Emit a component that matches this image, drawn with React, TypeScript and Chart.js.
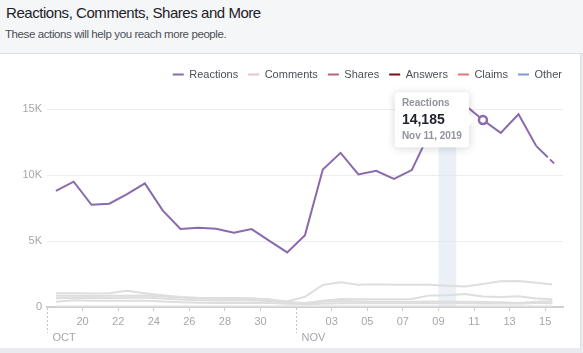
import React, { useEffect, useRef } from 'react';
import { Chart, registerables, Tooltip } from 'chart.js';

Chart.register(...registerables);

// ---------- data ----------
const SERIES_NAMES = ['Reactions', 'Comments', 'Shares', 'Answers', 'Claims', 'Other'];
const LEGEND_COLORS = ['#8a6aae', '#e9c3cf', '#b3637f', '#7b0d1e', '#e57373', '#7b9bd0'];

// Oct 18 .. Nov 15, 2019 (one value per day)
const REACTIONS = [8800, 9500, 7750, 7830, 8560, 9370, 7330, 5910, 6010, 5930, 5630, 5910, 5020, 4140,
  5450, 10430, 11690, 10050, 10330, 9720, 10380, 13200, 14600, 15300, 14185, 13200, 14620, 12200, 10890];
const COMMENTS = [1040, 1050, 1030, 1040, 1230, 1050, 900, 760, 700, 680, 680, 660, 560, 420,
  780, 1670, 1870, 1680, 1720, 1690, 1690, 1680, 1620, 1560, 1750, 1960, 1970, 1830, 1690];
const SHARES = [850, 860, 840, 850, 860, 870, 800, 720, 650, 620, 610, 610, 560, 380,
  300, 480, 600, 590, 580, 590, 600, 880, 900, 980, 800, 760, 820, 640, 580];
const ANSWERS = [30, 30, 30, 30, 30, 30, 30, 30, 30, 30, 30, 30, 30, 30,
  30, 40, 40, 40, 40, 40, 40, 40, 40, 40, 40, 40, 40, 40, 40];
const CLAIMS = [400, 520, 480, 470, 470, 480, 420, 360, 320, 300, 300, 300, 300, 250,
  200, 250, 280, 280, 280, 280, 280, 280, 280, 280, 270, 260, 250, 300, 280];
const OTHER = [660, 700, 680, 680, 700, 720, 640, 560, 520, 500, 500, 500, 460, 300,
  260, 400, 450, 420, 400, 400, 400, 420, 400, 400, 380, 360, 300, 400, 450];

const SERIES_VALUES = [REACTIONS, COMMENTS, SHARES, ANSWERS, CLAIMS, OTHER];

const START_DATE = new Date(2019, 9, 18);
const MONTHS_SHORT = ['Jan', 'Feb', 'Mar', 'Apr', 'May', 'Jun', 'Jul', 'Aug', 'Sep', 'Oct', 'Nov', 'Dec'];
const DATE_LABELS = REACTIONS.map((_, i) => {
  const d = new Date(START_DATE.getFullYear(), START_DATE.getMonth(), START_DATE.getDate() + i);
  return `${MONTHS_SHORT[d.getMonth()]} ${d.getDate()}, ${d.getFullYear()}`;
});

const X_TICK_VALUES = [2, 4, 6, 8, 10, 12, 16, 18, 20, 22, 24, 26, 28];
const X_TICK_LABELS = ['20', '22', '24', '26', '28', '30', '03', '05', '07', '09', '11', '13', '15'];
const MONTH_VALUES = [0, 14];
const MONTH_LABELS = ['OCT', 'NOV'];
const Y_TICKS = [0, 5000, 10000, 15000];
const Y_TICK_LABELS = ['0', '5K', '10K', '15K'];
const X_RANGE = [0, 29];
const Y_RANGE = [0, 16000];
const BAND = [22, 23];
const HOVER_INDEX = 24;
const LAST_INDEX = REACTIONS.length - 1;

// ---------- style ----------
const FONT = "'Liberation Sans', Arial, Helvetica, sans-serif";
const FADED = '#dedede';
const CANVAS_W = 580;
const CANVAS_H = 294;
const LEGEND_H = 37;

Chart.defaults.font.family = FONT;

(Tooltip as any).positioners.leftOfPoint = function (elements: any[]) {
  if (!elements.length) return false;
  const el = elements[0].element;
  return { x: el.x - 6, y: el.y };
};

const legendHeightPlugin = {
  id: 'legendHeight',
  beforeLayout(chart: any) {
    const lg = chart.legend;
    if (lg && !lg.__patched) {
      const orig = lg.fit;
      lg.fit = function () {
        orig.call(this);
        this.height = LEGEND_H;
      };
      lg.__patched = true;
    }
  },
};

const bandPlugin = {
  id: 'band',
  beforeDatasetsDraw(chart: any) {
    const { ctx, chartArea } = chart;
    const xs = chart.scales.x;
    const x0 = xs.getPixelForValue(BAND[0]);
    const x1 = xs.getPixelForValue(BAND[1]);
    ctx.save();
    ctx.fillStyle = 'rgba(222,229,240,0.6)';
    ctx.fillRect(x0, chartArea.top, x1 - x0, chartArea.bottom - chartArea.top);
    ctx.restore();
  },
};

const monthPlugin = {
  id: 'months',
  afterDraw(chart: any) {
    const { ctx, chartArea } = chart;
    const xs = chart.scales.x;
    ctx.save();
    MONTH_VALUES.forEach((v, i) => {
      const px = Math.round(xs.getPixelForValue(v)) + 0.5;
      ctx.strokeStyle = '#c4c4c4';
      ctx.lineWidth = 1;
      ctx.setLineDash([2, 2]);
      ctx.beginPath();
      ctx.moveTo(px, chartArea.bottom + 1);
      ctx.lineTo(px, chartArea.bottom + 26);
      ctx.stroke();
      ctx.setLineDash([]);
      ctx.fillStyle = '#a4a7ac';
      ctx.font = `11px ${FONT}`;
      ctx.textBaseline = 'middle';
      ctx.textAlign = 'left';
      ctx.fillText(MONTH_LABELS[i], px + 5, chartArea.bottom + 31);
    });
    ctx.restore();
  },
};

const tooltipShadowPlugin = {
  id: 'tooltipShadow',
  beforeTooltipDraw(chart: any, args: any) {
    const t = args.tooltip;
    if (!t || !t.opacity) return;
    const ctx = chart.ctx;
    ctx.save();
    ctx.shadowColor = 'rgba(0,0,0,0.18)';
    ctx.shadowBlur = 8;
    ctx.shadowOffsetY = 1;
    ctx.fillStyle = '#fff';
    ctx.beginPath();
    ctx.roundRect(t.x, t.y, t.width, t.height, 3);
    ctx.fill();
    ctx.restore();
  },
};

export default function App() {
  const ref = useRef<HTMLCanvasElement>(null);

  useEffect(() => {
    const canvas = ref.current;
    if (!canvas) return;

    const datasets = SERIES_NAMES.map((name, i) => {
      const main = i === 0;
      return {
        label: name,
        data: SERIES_VALUES[i].map((v, j) => ({ x: j + 0.5, y: v })),
        borderColor: main ? LEGEND_COLORS[0] : FADED,
        backgroundColor: main ? LEGEND_COLORS[0] : FADED,
        borderWidth: 2,
        pointRadius: 0,
        pointHoverRadius: main ? 4 : 0,
        pointHoverBorderWidth: main ? 2.5 : 0,
        pointHoverBackgroundColor: '#ffffff',
        pointHoverBorderColor: LEGEND_COLORS[0],
        tension: 0,
        fill: false,
        segment: {
          borderDash: (ctx: any) => (ctx.p1DataIndex === LAST_INDEX ? [16, 3] : undefined),
        },
      };
    });

    const chart = new Chart(canvas, {
      type: 'line',
      data: { datasets },
      options: {
        responsive: false,
        animation: false,
        events: [],
        layout: { padding: { top: 5, right: 8, left: 0, bottom: 0 } },
        scales: {
          x: {
            type: 'linear',
            min: X_RANGE[0],
            max: X_RANGE[1],
            afterBuildTicks: (s: any) => {
              s.ticks = X_TICK_VALUES.map((v) => ({ value: v }));
            },
            afterFit: (s: any) => {
              s.height = CANVAS_H - 253;
            },
            ticks: {
              autoSkip: false,
              maxRotation: 0,
              padding: 4,
              color: '#a4a7ac',
              font: { size: 11 },
              callback: (v: any) => {
                const k = X_TICK_VALUES.indexOf(Number(v));
                return k >= 0 ? X_TICK_LABELS[k] : '';
              },
            },
            grid: {
              drawOnChartArea: false,
              drawTicks: true,
              tickLength: 4,
              color: '#cfcfcf',
            },
            border: { display: true, color: '#cfcfcf', width: 2 },
          },
          y: {
            type: 'linear',
            min: Y_RANGE[0],
            max: Y_RANGE[1],
            afterBuildTicks: (s: any) => {
              s.ticks = Y_TICKS.map((v) => ({ value: v }));
            },
            afterFit: (s: any) => {
              s.width = 47;
            },
            ticks: {
              padding: 5,
              color: '#a4a7ac',
              font: { size: 11 },
              callback: (v: any) => {
                const k = Y_TICKS.indexOf(Number(v));
                return k >= 0 ? Y_TICK_LABELS[k] : '';
              },
            },
            grid: { color: '#ededed', drawTicks: false, lineWidth: 1 },
            border: { display: false },
          },
          yRight: {
            type: 'linear',
            position: 'right',
            display: true,
            afterFit: (s: any) => {
              s.width = 9;
            },
            ticks: { display: false },
            grid: { display: false },
            border: { display: false },
          },
        },
        plugins: {
          legend: {
            position: 'top',
            align: 'end',
            labels: {
              boxWidth: 11,
              boxHeight: 2,
              padding: 10,
              color: '#4b4f56',
              font: { size: 11 },
              generateLabels: (c: any) =>
                c.data.datasets.map((ds: any, i: number) => ({
                  text: ds.label,
                  fillStyle: LEGEND_COLORS[i],
                  strokeStyle: LEGEND_COLORS[i],
                  lineWidth: 0,
                  hidden: false,
                  datasetIndex: i,
                  fontColor: '#4b4f56',
                })),
            },
          },
          tooltip: {
            enabled: true,
            position: 'leftOfPoint' as any,
            xAlign: 'right',
            yAlign: 'center',
            backgroundColor: '#ffffff',
            titleColor: '#90949c',
            bodyColor: '#1d2129',
            footerColor: '#90949c',
            titleFont: { size: 10, weight: 'bold' },
            bodyFont: { size: 14, weight: 'bold' },
            footerFont: { size: 10, weight: 'bold' },
            titleMarginBottom: 2,
            footerMarginTop: 2,
            padding: { top: 5, bottom: 5, left: 7, right: 7 },
            caretSize: 6,
            caretPadding: 2,
            cornerRadius: 3,
            displayColors: false,
            borderWidth: 0,
            callbacks: {
              title: (items: any[]) => (items.length ? items[0].dataset.label : ''),
              label: (item: any) => Number(item.parsed.y).toLocaleString('en-US'),
              footer: (items: any[]) => (items.length ? DATE_LABELS[items[0].dataIndex] : ''),
            },
          },
        },
      } as any,
      plugins: [legendHeightPlugin, bandPlugin, monthPlugin, tooltipShadowPlugin],
    });

    const active = [{ datasetIndex: 0, index: HOVER_INDEX }];
    chart.setActiveElements(active);
    chart.tooltip?.setActiveElements(active, { x: 0, y: 0 });
    chart.update();

    return () => chart.destroy();
  }, []);

  return (
    <div
      style={{
        position: 'absolute',
        left: 0,
        top: 0,
        width: 583,
        height: 353,
        background: '#e9ebee',
        fontFamily: FONT,
        overflow: 'hidden',
      }}
    >
      <div
        style={{
          position: 'absolute',
          left: 0,
          top: 0,
          width: 583,
          height: 53,
          background: '#f5f6f7',
          borderBottom: '1px solid #dddfe2',
        }}
      >
        <div
          style={{
            position: 'absolute',
            left: 6,
            top: 4,
            fontSize: 15,
            lineHeight: '18px',
            color: '#1d2129',
            letterSpacing: '-0.45px',
            whiteSpace: 'nowrap',
          }}
        >
          Reactions, Comments, Shares and More
        </div>
        <div
          style={{
            position: 'absolute',
            left: 5,
            top: 27,
            fontSize: 11.5,
            lineHeight: '14px',
            color: '#4b4f56',
            letterSpacing: '-0.4px',
            whiteSpace: 'nowrap',
          }}
        >
          These actions will help you reach more people.
        </div>
      </div>
      <div
        style={{
          position: 'absolute',
          left: 0,
          top: 54,
          width: CANVAS_W,
          height: CANVAS_H,
          background: '#ffffff',
          borderRight: '1px solid #dddfe2',
        }}
      >
        <canvas
          ref={ref}
          width={CANVAS_W}
          height={CANVAS_H}
          style={{ display: 'block', width: CANVAS_W, height: CANVAS_H }}
        />
      </div>
    </div>
  );
}
